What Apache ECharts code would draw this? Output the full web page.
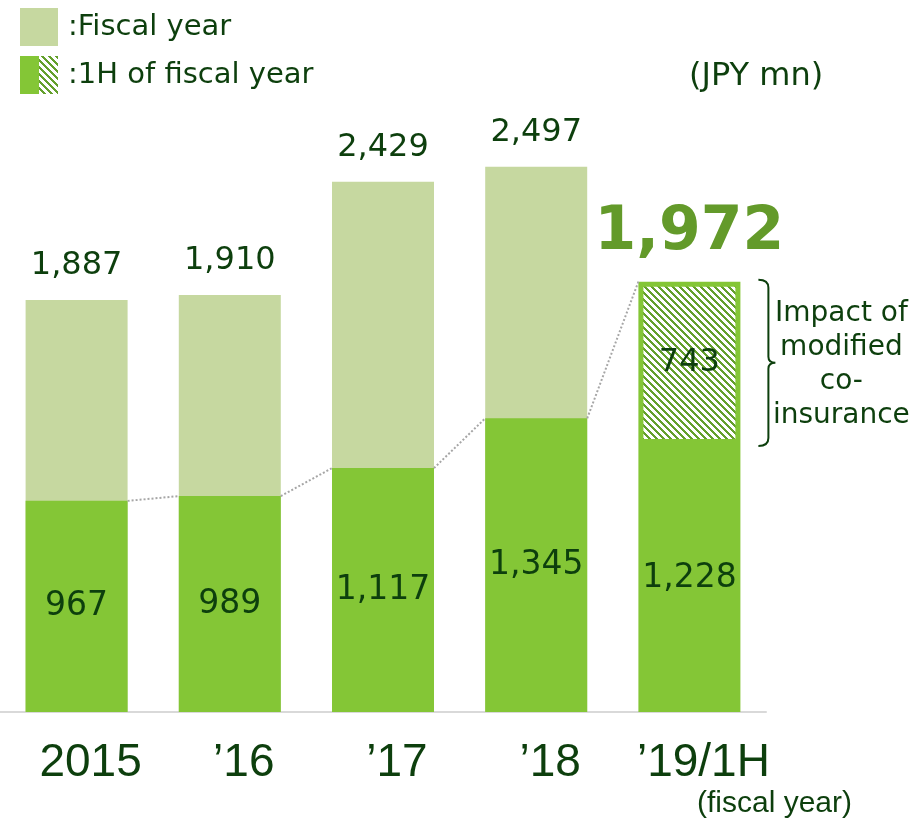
<!DOCTYPE html>
<html>
<head>
<meta charset="utf-8">
<script src="https://cdn.jsdelivr.net/npm/echarts@6/dist/echarts.min.js"></script>
<style>
  html, body { margin: 0; padding: 0; background: #fff; }
  #main { width: 914px; height: 821px; }
</style>
</head>
<body>
<div id="main"></div>
<script>
// data
var categories = ['2015', '\u201916', '\u201917', '\u201918', '\u201919/1H'];
var fiscalYear = [1887, 1910, 2429, 2497, 1972];   // last one = 1H total (label only)
var firstHalf = [967, 989, 1117, 1345, 1228];
var coInsurance = [null, null, null, null, 743];

var textColor = '#0d3f0d';
var lightGreen = '#c6d8a0';
var green = '#84c636';
var hatchGreen = '#64a02c';
var fontName = 'DejaVu Sans';
var axisFont = 'Liberation Sans';

// hatch pattern  \\\\
function makeHatch() {
  var n = 7;
  var c = document.createElement('canvas');
  c.width = n; c.height = n;
  var ctx = c.getContext('2d');
  ctx.fillStyle = '#fff';
  ctx.fillRect(0, 0, n, n);
  ctx.fillStyle = hatchGreen;
  for (var x = 0; x < n; x++) {
    for (var y = 0; y < n; y++) {
      if ((x - y + n) % n < 3) ctx.fillRect(x, y, 1, 1);
    }
  }
  return c;
}
var hatch = makeHatch();

// legend icon: half solid, half hatched
function makeLegendIcon() {
  var c = document.createElement('canvas');
  c.width = 38; c.height = 38;
  var ctx = c.getContext('2d');
  ctx.fillStyle = ctx.createPattern(hatch, 'repeat');
  ctx.fillRect(0, 0, 38, 38);
  ctx.fillStyle = green;
  ctx.fillRect(0, 0, 19, 38);
  return c.toDataURL();
}

var barW = 102;

// dotted connectors between 1H tops
var connectors = [];
for (var i = 0; i < firstHalf.length - 1; i++) {
  var next = firstHalf[i + 1] + (coInsurance[i + 1] || 0);
  connectors.push([i, firstHalf[i], i + 1, next]);
}

var chart = echarts.init(document.getElementById('main'));

var option = {
  animation: false,
  textStyle: { fontFamily: fontName },
  title: [
    { text: '(JPY mn)', left: 684, top: 56,
      textStyle: { fontSize: 32, fontWeight: 'normal', color: textColor, fontFamily: fontName } },
    { text: '(fiscal year)', left: 692, top: 784,
      textStyle: { fontSize: 30, fontWeight: 'normal', color: textColor, fontFamily: axisFont } }
  ],
  legend: {
    orient: 'vertical',
    left: 20 - 5,
    top: 8 - 5,
    itemWidth: 38,
    itemHeight: 38,
    itemGap: 10,
    selectedMode: false,
    formatter: function (n) { return ':' + n; },
    textStyle: { fontSize: 29, color: textColor, fontFamily: fontName, padding: [0, 0, 0, 5] },
    data: [
      { name: 'Fiscal year', icon: 'rect' },
      { name: '1H of fiscal year', icon: 'image://' + makeLegendIcon() }
    ]
  },
  grid: { left: 0, right: 148, top: 57, bottom: 109 },
  xAxis: {
    type: 'category',
    data: categories,
    axisTick: { show: false },
    axisLine: { lineStyle: { color: '#d9d9d9', width: 2 } },
    axisLabel: {
      interval: 0, fontSize: 46, color: textColor, margin: 28,
      fontFamily: axisFont, padding: [0, 0, 0, 28]
    }
  },
  yAxis: {
    type: 'value', min: 0, max: 3000, show: false,
    splitLine: { show: false }
  },
  series: [
    {
      name: 'Fiscal year',
      type: 'bar',
      barWidth: barW,
      barGap: '-100%',
      itemStyle: { color: lightGreen },
      label: {
        show: true, position: 'top', distance: 18,
        fontSize: 32, color: textColor, fontFamily: fontName,
        formatter: function (p) { return p.value.toLocaleString('en-US'); }
      },
      data: fiscalYear.map(function (v, i) {
        if (i === fiscalYear.length - 1) {
          return {
            value: v,
            itemStyle: { color: 'rgba(0,0,0,0)' },
            label: { fontSize: 60, fontWeight: 'bold', color: '#639a2a', distance: 18 }
          };
        }
        return v;
      })
    },
    {
      name: '1H of fiscal year',
      type: 'bar',
      stack: 'h',
      barWidth: barW,
      itemStyle: { color: green },
      label: {
        show: true, position: 'inside',
        fontSize: 33, color: textColor, fontFamily: fontName,
        formatter: function (p) { return p.value.toLocaleString('en-US'); }
      },
      data: firstHalf
    },
    {
      name: 'Impact of modified co-insurance',
      type: 'bar',
      stack: 'h',
      barWidth: barW,
      itemStyle: {
        color: { image: hatch, repeat: 'repeat' },
        borderColor: green,
        borderWidth: 5
      },
      label: {
        show: true, position: 'inside',
        fontSize: 32, color: textColor, fontFamily: fontName,
        formatter: function (p) { return p.value; }
      },
      data: coInsurance
    },
    {
      type: 'custom',
      silent: true,
      z: 5,
      renderItem: function (params, api) {
        var p1 = api.coord([api.value(0), api.value(1)]);
        var p2 = api.coord([api.value(2), api.value(3)]);
        return {
          type: 'line',
          shape: { x1: p1[0] + barW / 2, y1: p1[1], x2: p2[0] - barW / 2, y2: p2[1] },
          style: { stroke: '#a6a6a6', lineWidth: 2, lineDash: [2, 2] }
        };
      },
      data: connectors
    },
    {
      type: 'custom',
      silent: true,
      renderItem: function (params, api) {
        var top = api.coord([api.value(0), api.value(1) + api.value(2)]);
        var bot = api.coord([api.value(0), api.value(1)]);
        var x0 = top[0] + barW / 2 + 18;
        var t = top[1] - 2, b = bot[1] + 2;
        var mid = (t + b) / 2;
        var xm = x0 + 10, xt = x0 + 17;
        var d = 'M' + x0 + ' ' + t +
          ' Q' + xm + ' ' + t + ' ' + xm + ' ' + (t + 8) +
          ' L' + xm + ' ' + (mid - 6) +
          ' Q' + xm + ' ' + mid + ' ' + xt + ' ' + mid +
          ' Q' + xm + ' ' + mid + ' ' + xm + ' ' + (mid + 6) +
          ' L' + xm + ' ' + (b - 8) +
          ' Q' + xm + ' ' + b + ' ' + x0 + ' ' + b;
        return {
          type: 'group',
          children: [
            {
              type: 'path',
              shape: { pathData: d },
              style: { stroke: textColor, lineWidth: 2, fill: null }
            },
            {
              type: 'text',
              style: {
                x: x0 + 83, y: mid + 2,
                text: 'Impact of\nmodified\nco-\ninsurance',
                align: 'center', verticalAlign: 'middle',
                fontSize: 28, lineHeight: 34, fill: textColor, fontFamily: fontName
              }
            }
          ]
        };
      },
      data: [[4, firstHalf[4], coInsurance[4]]]
    }
  ]
};

chart.setOption(option);
</script>
</body>
</html>
